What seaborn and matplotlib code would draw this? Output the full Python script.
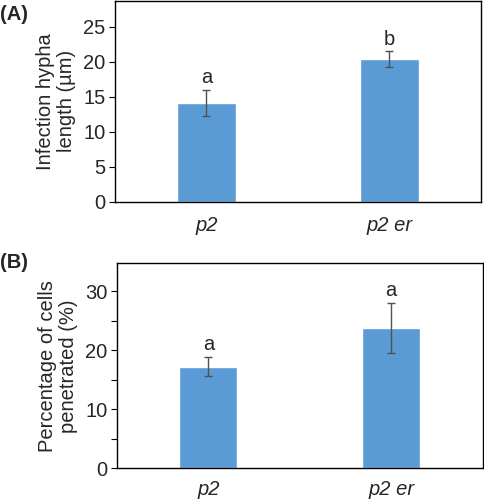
import matplotlib
matplotlib.use("Agg")
import matplotlib.pyplot as plt
import seaborn as sns
import pandas as pd
from matplotlib.ticker import MultipleLocator, FuncFormatter

sns.set_theme(style="white")
plt.rcParams['font.family'] = ['Liberation Sans', 'DejaVu Sans']

categories = ["p2", "p2 er"]
hypha_len = [14.1, 20.4]
hypha_err = [1.9, 1.1]
hypha_letters = ["a", "b"]
penet = [17.2, 23.8]
penet_err = [1.6, 4.2]
penet_letters = ["a", "a"]

BAR = "#5B9BD5"
fs = 14.5

fig = plt.figure(figsize=(4.84, 5.0), dpi=100)
axA = fig.add_axes([0.2376, 0.5966, 0.7562, 0.4014])
axB = fig.add_axes([0.2417, 0.0634, 0.7553, 0.41])

def draw(ax, vals, errs, letters, ylabel, ymax, major, labelstep, xpad):
    df = pd.DataFrame({"cat": categories, "val": vals})
    sns.barplot(data=df, x="cat", y="val", color=BAR, saturation=1, width=0.317, ax=ax, errorbar=None)
    ax.errorbar(range(len(vals)), vals, yerr=errs, fmt="none", ecolor="#505050",
                elinewidth=1.0, capsize=3, capthick=1.0)
    for i, (v, e, l) in enumerate(zip(vals, errs, letters)):
        ax.annotate(l, xy=(i, v + e), xytext=(0, 2), textcoords="offset points",
                    ha="center", va="bottom", fontsize=fs)
    ax.set_ylim(0, ymax)
    ax.set_xlim(-0.5, 1.5)
    ax.yaxis.set_major_locator(MultipleLocator(major))
    ax.yaxis.set_major_formatter(FuncFormatter(lambda v, p: f"{int(round(v))}" if round(v) % labelstep == 0 else ""))
    ax.tick_params(axis="y", which="major", left=True, length=4, width=0.8, color="black",
                   labelsize=fs, pad=3)
    ax.tick_params(axis="x", bottom=False, labelsize=fs, pad=xpad)
    for lab in ax.get_xticklabels():
        lab.set_fontstyle("italic")
    ax.set_xlabel("")
    ax.set_ylabel(ylabel, fontsize=fs, labelpad=5, linespacing=1.15)
    for s in ax.spines.values():
        s.set_color("black")
        s.set_linewidth(1.0)

draw(axA, hypha_len, hypha_err, hypha_letters, "Infection hypha\nlength (µm)", 28.7, 5, 5, 4.5)
draw(axB, penet, penet_err, penet_letters, "Percentage of cells\npenetrated (%)", 34.7, 5, 10, 2.5)

fig.text(0.0, 0.972, "(A)", fontsize=fs, fontweight="bold", ha="left", va="center")
fig.text(0.0, 0.474, "(B)", fontsize=fs, fontweight="bold", ha="left", va="center")

fig.savefig("out.png", dpi=100)
